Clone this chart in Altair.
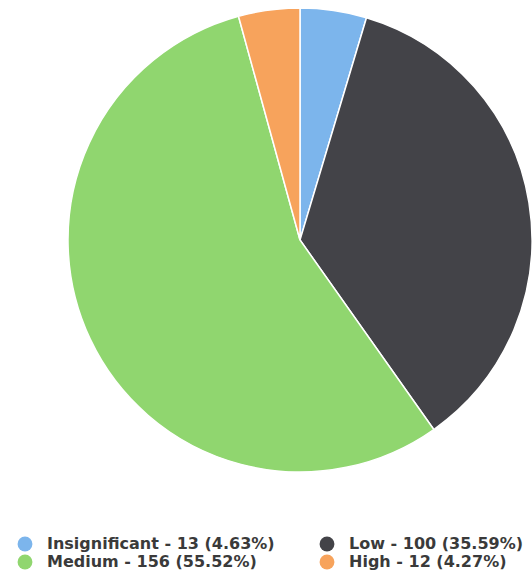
import altair as alt
import pandas as pd

categories = ["Insignificant", "Low", "Medium", "High"]
counts = [13, 100, 156, 12]
colors = ["#7cb5ec", "#434348", "#90d66f", "#f7a35c"]

total = sum(counts)
labels = [f"{c} - {n} ({n / total * 100:.2f}%)" for c, n in zip(categories, counts)]

df = pd.DataFrame({"label": labels, "count": counts, "order": range(len(counts))})

chart = (
    alt.Chart(df)
    .mark_arc(radius=232, stroke="white", strokeWidth=1.5)
    .encode(
        theta=alt.Theta("count:Q", stack=True),
        order=alt.Order("order:Q"),
        x=alt.value(300),
        y=alt.value(240),
        color=alt.Color(
            "label:N",
            scale=alt.Scale(domain=labels, range=colors),
            sort=labels,
            legend=alt.Legend(
                title=None,
                orient="none",
                direction="horizontal",
                legendX=17,
                legendY=536,
                columns=2,
                columnPadding=44,
                rowPadding=2,
                symbolType="circle",
                symbolSize=220,
                symbolStrokeWidth=0,
                labelFont="DejaVu Sans",
                labelFontSize=16,
                labelFontWeight="bold",
                labelColor="#3a3a3a",
                labelOffset=14,
                labelLimit=400,
            ),
        ),
    )
    .properties(
        width=532,
        height=575,
        padding=0,
        autosize=alt.AutoSizeParams(type="none"),
    )
    .configure_view(stroke=None)
)

chart.save("out.html", embed_options={"renderer": "svg", "actions": False})
